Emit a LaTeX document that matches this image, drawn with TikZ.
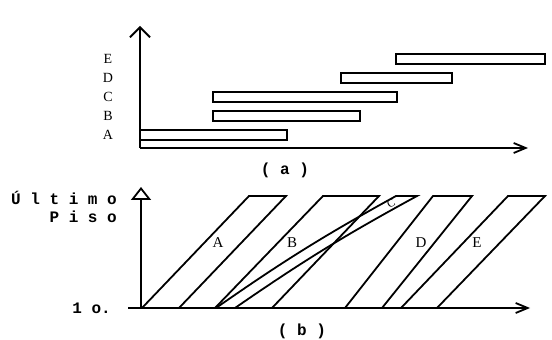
\documentclass[tikz,border=0pt]{standalone}
\usepackage{fontspec}
\setmainfont{Liberation Serif}
\setmonofont{Liberation Mono}
\usetikzlibrary{arrows.meta,positioning}
\tikzset{
  axis line/.style={line width=1.8pt},
  bar box/.style={draw,line width=1.8pt},
  lot band/.style={draw,line width=1.8pt,line join=miter},
  row label/.style={font=\fontsize{14}{14}\selectfont,inner sep=0pt},
  band label/.style={font=\fontsize{15}{15}\selectfont,inner sep=0pt},
  mono label/.style={font=\ttfamily\bfseries\fontsize{16}{16}\selectfont,inner sep=0pt},
}

\begin{document}
\begin{tikzpicture}[x=1pt,y=1pt]
  \useasboundingbox (0,0) rectangle (552,340);
  \begin{scope}
    \coordinate (oa) at (140,192);
    \coordinate (ya) at (140,314);
    \coordinate (xa) at (528,192);
    \draw[axis line,-{Straight Barb[length=10pt,width=20pt]}] (oa) -- (ya);
    \draw[axis line,-{Straight Barb[length=12pt,width=10pt]}] (oa) -- (xa);
    \draw[bar box] (140,200) rectangle (287,210);
    \draw[bar box] (213,219) rectangle (360,229);
    \draw[bar box] (213,238) rectangle (397,248);
    \draw[bar box] (341,257) rectangle (452,267);
    \draw[bar box] (396,276) rectangle (545,286);
    \node[row label] (ra) at (108,205) {A};
    \node[row label] (rb) at (108,224) {B};
    \node[row label] (rc) at (108,243) {C};
    \node[row label] (rd) at (108,262) {D};
    \node[row label] (re) at (108,281) {E};
    \node[mono label] (capa) at (285,170) {( a )};
  \end{scope}
  \begin{scope}
    \coordinate (ob) at (141,32);
    \coordinate (yb) at (141,153);
    \coordinate (sb) at (128,32);
    \coordinate (xb) at (530,32);
    \draw[axis line,-{Triangle[open,length=13pt,width=20pt]}] (ob) -- (yb);
    \draw[axis line,-{Straight Barb[length=12pt,width=10pt]}] (sb) -- (xb);
    \draw[lot band] (142,32) -- (249,144) -- (286,144) -- (179,32);
    \draw[lot band] (215,32) -- (323,144) -- (379,144) -- (272,32);
    \draw[lot band] (216,32) to[bend left=3] (396,144) -- (417,144) to[bend right=3] (235,32);
    \draw[lot band] (345,32) -- (433,144) -- (472,144) -- (382,32);
    \draw[lot band] (401,32) -- (508,144) -- (545,144) -- (437,32);
    \node[band label] (ba) at (218,97) {A};
    \node[band label] (bb) at (292,97) {B};
    \node[band label,font=\fontsize{11}{11}\selectfont,rotate=30] (bc) at (391,136) {C};
    \node[band label] (bd) at (421,97) {D};
    \node[band label] (be) at (477,97) {E};
    \node[mono label,anchor=east] (top) at (117,142) {Ú l t i m o};
    \node[mono label,anchor=east] (piso) at (117,123) {P i s o};
    \node[mono label,anchor=east] (first) at (111,32) {1 o.};
    \node[mono label] (capb) at (302,9) {( b )};
  \end{scope}
\end{tikzpicture}
\end{document}
